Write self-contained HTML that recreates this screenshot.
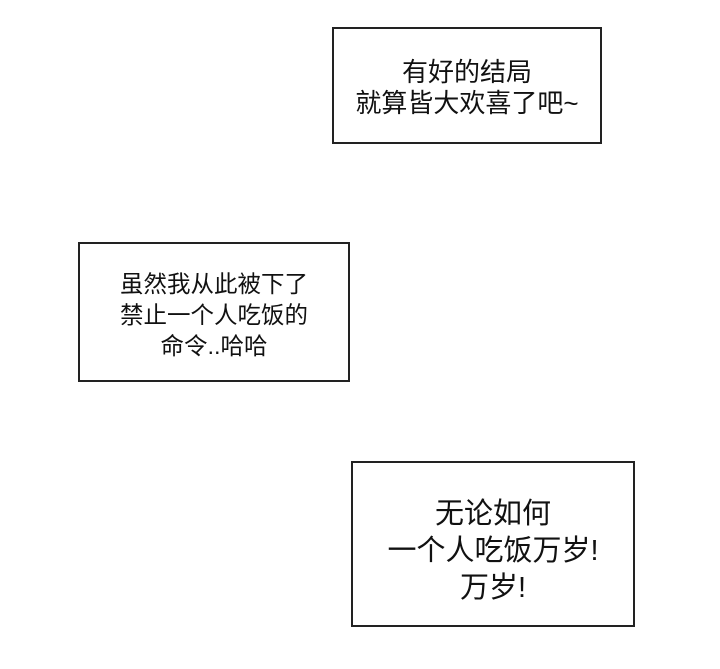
<!DOCTYPE html>
<html><head><meta charset="utf-8"><style>
html,body{margin:0;padding:0;background:#fff;width:720px;height:669px;overflow:hidden;position:relative}
.b{position:absolute;border:2px solid #222;box-sizing:border-box;display:flex;flex-direction:column;justify-content:center;align-items:center;font-family:"Liberation Sans","Noto Sans CJK SC",sans-serif;color:#111;text-align:center}
.b div{white-space:nowrap}
</style></head><body>
<div class="b" style="left:332px;top:27px;width:270px;height:117px;font-size:26px;line-height:31px;padding-top:4px">
<div>有好的结局</div><div>就算皆大欢喜了吧~</div></div>
<div class="b" style="left:78px;top:242px;width:272px;height:140px;font-size:23.5px;line-height:31px;padding-top:6px">
<div>虽然我从此被下了</div><div>禁止一个人吃饭的</div><div>命令..哈哈</div></div>
<div class="b" style="left:351px;top:461px;width:284px;height:166px;font-size:29px;line-height:37px;padding-top:14px">
<div>无论如何</div><div>一个人吃饭万岁!</div><div>万岁!</div></div>
</body></html>
